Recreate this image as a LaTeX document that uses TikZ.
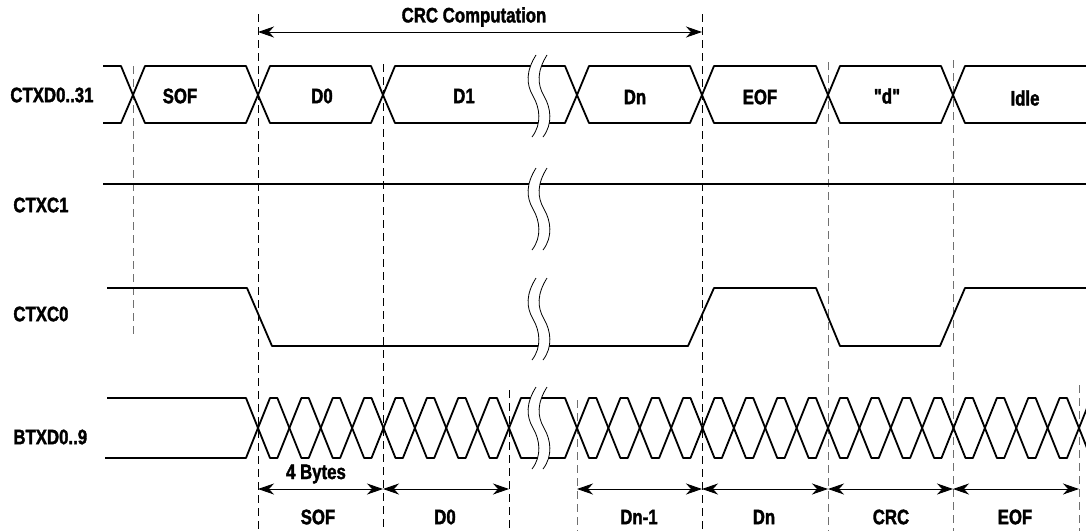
\documentclass[tikz,border=0pt]{standalone}
\usepackage{fontspec}
\newfontfamily\lblfont{Liberation Sans Bold}[FakeStretch=0.8,FakeBold=1.6,Ligatures=TeXOff]
\usetikzlibrary{arrows.meta}
\definecolor{gridc}{HTML}{707070}
\tikzset{
  brk/.pic={
    \fill[white] (4,-41) .. controls (-6,-25) and (-6,-12) .. (1,0) .. controls (8,12) and (10,28) .. (0,41) -- (11,41) .. controls (21,28) and (19,12) .. (12,0) .. controls (5,-12) and (5,-25) .. (15,-41) -- cycle;
    \draw[line width=0.4pt] (4,-41) .. controls (-6,-25) and (-6,-12) .. (1,0) .. controls (8,12) and (10,28) .. (0,41);
    \draw[line width=0.4pt] (15,-41) .. controls (5,-25) and (5,-12) .. (12,0) .. controls (19,12) and (21,28) .. (11,41);
  }
}
\begin{document}
\begin{tikzpicture}[x=0.5pt,y=-0.5pt,
    sig/.style={line width=0.9pt,line join=round},
    grid/.style={dash pattern=on 4pt off 2.5pt,line width=0.45pt},
    dim/.style={<->,line width=0.45pt},
    lbl/.style={font=\lblfont\fontsize{10.5}{12}\selectfont,inner sep=0pt},
    >={Stealth[length=8pt,width=5.5pt,inset=2.5pt]}]
  \useasboundingbox (0,0) rectangle (1086,531);
  % time marks
  \draw[grid] (258,14) -- (258,531);
  \draw[grid] (702,14) -- (702,531);
  \draw[grid] (383,64) -- (383,531);
  \draw[grid] (509,390) -- (509,531);
  \draw[grid,gridc] (133,66) -- (133,337);
  \draw[grid,gridc] (828,62) -- (828,531);
  \draw[grid,gridc] (953,60) -- (953,531);
  \draw[grid,gridc] (577,400) -- (577,531);
  \draw[grid,gridc] (1079,385) -- (1079,531);

  \node[lbl,anchor=west] (ctxd) at (10,95) {CTXD0..31};
  \node[lbl,anchor=west] (ctxc1) at (13,205) {CTXC1};
  \node[lbl,anchor=west] (ctxc0) at (13,314) {CTXC0};
  \node[lbl,anchor=west] (btxd) at (13,437) {BTXD0..9};

  % CTXD0..31
  \draw[sig] (103,66) -- (121,66) -- (133,95) -- (121,123) -- (103,123);
  \foreach \a/\b in {133/258,258/383,383/577,577/702,702/828,828/953}
    \draw[sig] (\a,95) -- (\a+12,66) -- (\b-12,66) -- (\b,95) -- (\b-12,123) -- (\a+12,123) -- cycle;
  \draw[sig] (1086,66) -- (965,66) -- (953,95) -- (965,123) -- (1086,123);
  \node[lbl] (sof) at (180,96) {SOF};
  \node[lbl] (d0) at (322,96) {D0};
  \node[lbl] (d1) at (464,96) {D1};
  \node[lbl] (dn) at (635,97) {Dn};
  \node[lbl] (eof) at (760,97) {EOF};
  \node[lbl] (dq) at (887,96) {"d"};
  \node[lbl] (idle) at (1025,98) {Idle};

  % CTXC1 and CTXC0
  \draw[sig] (103,184) -- (1086,184);
  \draw[sig] (107,288) -- (247,288) -- (272,346) -- (688,346) -- (714,288) -- (816,288)
    -- (840,346) -- (940,346) -- (965,288) -- (1086,288);

  % BTXD0..9
  \draw[sig] (107,398) -- (246,398) -- (258,428) -- (246,458) -- (105,458);
  \draw[sig] (509,428) -- (521,398) -- (565,398) -- (577,428) -- (565,458) -- (521,458) -- cycle;
  \begin{scope}
    \clip (0,0) rectangle (1086,531);
    \foreach \s/\n in {258/7,577/16}
      \foreach \i in {0,...,\n}{
        \pgfmathsetmacro\a{\s+31.375*\i}
        \draw[sig] (\a,428) -- ++(12,-30) -- ++(7.375,0) -- ++(12,30) -- ++(-12,30) -- ++(-7.375,0) -- cycle;
      }
  \end{scope}

  % breaks
  \pic at (532,96) {brk};
  \pic at (532,209) {brk};
  \pic at (532,319) {brk};
  \pic at (532,428) {brk};

  % CRC computation span
  \coordinate (crcl) at (258,32);
  \coordinate (crcr) at (702,32);
  \draw[dim] (crcl) -- (crcr);
  \node[lbl] (crc) at (474,17) {CRC Computation};

  % byte spans
  \foreach \n/\x in {a/258,b/383,c/509,d/577,e/702,f/828,g/953,h/1079}
    \coordinate (\n) at (\x,489);
  \draw[dim] (a) -- (b);
  \draw[dim] (b) -- (c);
  \draw[dim] (d) -- (e);
  \draw[dim] (e) -- (f);
  \draw[dim] (f) -- (g);
  \draw[dim] (g) -- (h);
  \node[lbl] (bytes) at (316,474) {4 Bytes};
  \node[lbl] (bsof) at (318,517) {SOF};
  \node[lbl] (bd0) at (445,517) {D0};
  \node[lbl] (bdn1) at (639,517) {Dn-1};
  \node[lbl] (bdn) at (764,517) {Dn};
  \node[lbl] (bcrc) at (891,517) {CRC};
  \node[lbl] (beof) at (1015,517) {EOF};
\end{tikzpicture}
\end{document}
